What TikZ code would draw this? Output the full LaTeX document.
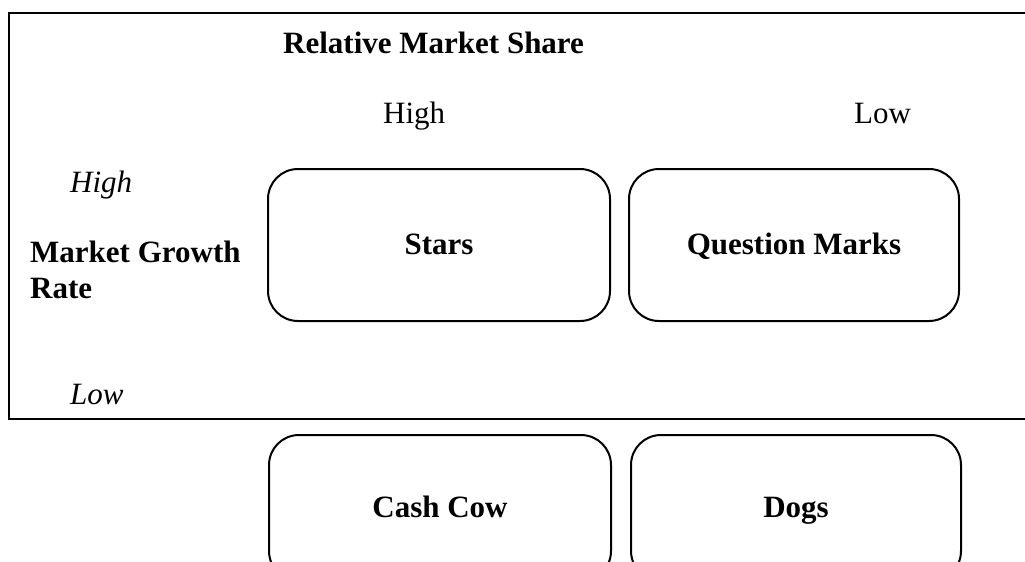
\documentclass[tikz,border=0pt]{standalone}
\usepackage{fontspec}
\setmainfont{Liberation Serif}
\begin{document}
\begin{tikzpicture}[x=1pt,y=-1pt,
    every node/.style={inner sep=0pt,font=\fontsize{31}{36}\selectfont},
    quadrant/.style={draw,line width=2pt,rounded corners=30pt,
      text height=22pt,text depth=4pt,
      font=\fontsize{31}{36}\selectfont\bfseries}]
      \useasboundingbox (0,0) rectangle (1025,562);
      \clip (0,0) rectangle (1025,562);
      % open frame round the upper part
      \draw[line width=2pt] (1040,13) -- (9,13) -- (9,419) -- (1040,419);
      % axis labels
      \node[anchor=base west,font=\fontsize{31}{36}\selectfont\bfseries] (share) at (283,53) {Relative Market Share};
      \node[anchor=base west] (sharehigh) at (383,123) {High};
      \node[anchor=base west] (sharelow) at (854,123) {Low};
      \node[anchor=base west,font=\fontsize{31}{36}\selectfont\itshape] (growthhigh) at (70,192) {High};
      \node[anchor=base west,align=left,font=\fontsize{31}{36}\selectfont\bfseries] (growth) at (30,298) {Market Growth\\Rate};
      \node[anchor=base west,font=\fontsize{31}{36}\selectfont\itshape] (growthlow) at (70,404) {Low};
      % the four quadrants
      \node[quadrant,minimum width=342pt,minimum height=152pt] (stars) at (439,245) {Stars};
      \node[quadrant,minimum width=330pt,minimum height=152pt] (qmarks) at (794,245) {Question Marks};
      \node[quadrant,minimum width=342pt,minimum height=146pt] (cashcow) at (440,508) {Cash Cow};
      \node[quadrant,minimum width=330pt,minimum height=146pt] (dogs) at (796,508) {Dogs};
    \end{tikzpicture}
\end{document}
